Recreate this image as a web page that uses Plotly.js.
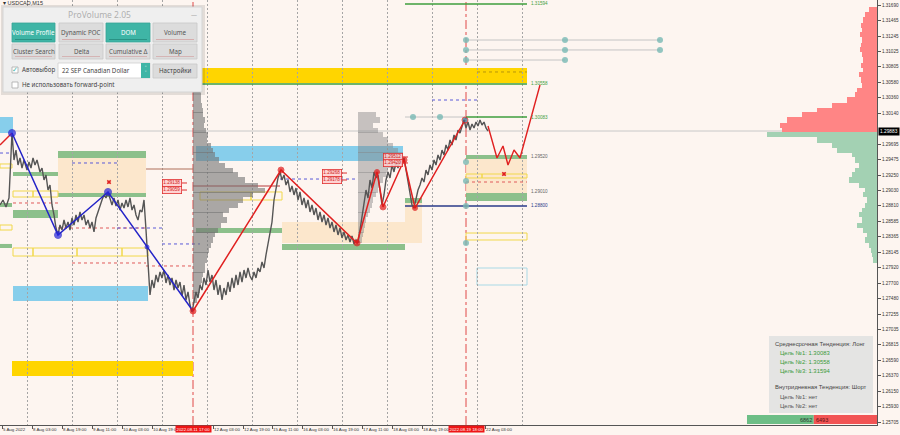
<!DOCTYPE html>
<html><head><meta charset="utf-8">
<script src="https://cdn.plot.ly/plotly-3.0.1.min.js"></script>
<style>html,body{margin:0;padding:0;background:#FDF5F0;}#chart{width:900px;height:435px;}</style>
</head><body><div id="chart"></div>
<script>
// ---------- DATA ----------
const symbolLabel = '▾ USDCAD,M15';
const timeTickPos = [2,32,62,92,122,152,213,243,272,302,332,362,392,422,485];
const timeTickText = ['5 Aug 2022','8 Aug 03:00','8 Aug 19:00','9 Aug 11:00','10 Aug 03:00','10 Aug 19:00','12 Aug 03:00','12 Aug 19:00','15 Aug 11:00','16 Aug 03:00','16 Aug 19:00','17 Aug 11:00','18 Aug 03:00','18 Aug 19:00','22 Aug 03:00'];
const separatorPos = [27,72,117,162,207,252,297,342,387,432,477,522];
const eventPos = [193,466];
const eventText = ['2022.08.11 17:00','2022.08.19 18:00'];
const priceTicks = [1.31690,1.31465,1.31245,1.31025,1.30805,1.30580,1.30360,1.30140,1.29695,1.29475,1.29250,1.29030,1.28810,1.28585,1.28365,1.28145,1.27920,1.27700,1.27480,1.27255,1.27035,1.26815,1.26590,1.26370,1.26150,1.25930,1.25705];
const priceRange = [1.25663,1.31762];
const lastPrice = 1.29882;
const lastPriceText = '1.29883';

const barPos = [0,3,6,9,12,14,16,18,20,22,24,27,29,31,33,35,37,40,42,44,46,48,50,52,54,56,58,60,62,64,66,68,70,72,74,76,78,80,82,84,86,88,90,92,94,96,98,100,102,104,106,108,110,112,114,116,118,120,122,124,126,128,130,132,134,136,138,140,142,144,146,147,149,150,152,154,156,158,160,162,164,166,168,170,172,174,176,178,180,182,184,186,188,190,192,194,196,198,200,202,204,206,208,210,212,214,216,218,220,222,224,226,228,230,232,234,236,238,240,242,244,246,248,250,252,254,256,258,260,262,264,266,268,270,272,274,276,278,280,282,284,286,288,290,292,294,296,298,300,302,304,306,308,310,312,314,316,318,320,322,324,326,328,330,332,334,336,338,340,342,344,346,348,350,352,354,356,358,360,362,364,366,368,370,372,374,376,378,380,382,384,386,388,390,392,394,396,398,400,402,404,406,408,410,412,414,416,418,420,422,424,426,428,430,432,434,436,438,440,442,444,446,448,450,452,454,456,458,460,462,464,466,468,470,472,474,476,478,480,482,484,486,488];
const closePrice = [1.28820,1.28892,1.28792,1.28921,1.29853,1.29466,1.29609,1.29394,1.29495,1.29351,1.29466,1.29322,1.29437,1.29351,1.29495,1.29394,1.29466,1.29294,1.29351,1.29179,1.29251,1.29035,1.29107,1.28820,1.28677,1.28490,1.28390,1.28533,1.28461,1.28605,1.28490,1.28576,1.28461,1.28634,1.28533,1.28677,1.28576,1.28720,1.28605,1.28677,1.28533,1.28605,1.28490,1.28576,1.28433,1.28634,1.28720,1.28820,1.28892,1.28964,1.28921,1.29007,1.28892,1.28820,1.28921,1.28806,1.28892,1.28748,1.28849,1.28777,1.28892,1.28792,1.28921,1.28748,1.28820,1.28677,1.28605,1.28748,1.28720,1.28892,1.28461,1.28218,1.27600,1.27529,1.27744,1.27629,1.27816,1.27715,1.27859,1.27773,1.27887,1.27701,1.27816,1.27672,1.27773,1.27600,1.27744,1.27629,1.27715,1.27514,1.27672,1.27457,1.27572,1.27385,1.27285,1.27457,1.27572,1.27486,1.27672,1.27600,1.27773,1.27672,1.27887,1.27715,1.27816,1.27600,1.27744,1.27529,1.27672,1.27457,1.27629,1.27529,1.27715,1.27572,1.27773,1.27629,1.27816,1.27672,1.27859,1.27715,1.27887,1.27773,1.27916,1.27801,1.27744,1.27859,1.27773,1.27916,1.27859,1.28002,1.27916,1.28103,1.28246,1.28433,1.28576,1.28892,1.29064,1.29208,1.29294,1.29179,1.29251,1.29107,1.29179,1.29007,1.29093,1.28964,1.29064,1.28892,1.29007,1.28820,1.28921,1.28777,1.28892,1.28720,1.28820,1.28677,1.28777,1.28605,1.28720,1.28576,1.28677,1.28533,1.28634,1.28490,1.28576,1.28433,1.28533,1.28390,1.28490,1.28347,1.28433,1.28318,1.28390,1.28289,1.28375,1.28261,1.28318,1.28275,1.28461,1.28677,1.28892,1.29035,1.28921,1.29179,1.29064,1.29294,1.29208,1.29251,1.29035,1.28820,1.28964,1.29179,1.29294,1.29208,1.29394,1.29294,1.29437,1.29351,1.29466,1.29394,1.29495,1.29322,1.29107,1.28964,1.28820,1.28777,1.28921,1.29035,1.29107,1.29208,1.29150,1.29322,1.29251,1.29394,1.29322,1.29466,1.29394,1.29538,1.29466,1.29609,1.29538,1.29681,1.29609,1.29753,1.29681,1.29825,1.29753,1.29896,1.29853,1.29968,1.30040,1.29925,1.30011,1.29896,1.29983,1.29925,1.30011,1.29954,1.30040,1.29968,1.30011,1.29925,1.29882];

const blueZigPos = [12,58,108,147,193];
const blueZigPrice = [1.29853,1.28390,1.29007,1.28218,1.27299];
const redZigPos = [193,281,357,377,383,404,415,465];
const redZigPrice = [1.27299,1.29322,1.28275,1.29294,1.28792,1.29466,1.28777,1.30040];
const prevZigPos = [0,12];
const prevZigPrice = [1.29681,1.29853];
const forecastPos = [488,497,503,508,514,520,540];
const forecastPrice = [1.29954,1.29495,1.29667,1.29394,1.29609,1.29495,1.30542];

const targetPrice = [1.31705,1.30558,1.30083];
const targetText = ['1.31594','1.30558','1.30083'];
const targetFrom = [405,200,466];
const targetTo = 527;
const auxLevelPrice = [1.29523,1.29007,1.28806];
const auxLevelText = ['1.29520','1.29010','1.28800'];

// zones: [from, to, high, low]
const greenZones = [[58,146,1.29595,1.29495],[58,146,1.28992,1.28935],[13,58,1.29294,1.29236],[13,58,1.28748,1.28634],[0,12,1.28849,1.28792],[0,12,1.28261,1.28203],[196,282,1.28490,1.28418],[282,405,1.28261,1.28174],[405,422,1.28921,1.28849],[466,527,1.29538,1.29480],[466,527,1.28992,1.28878]];
const blueZones = [[0,13,1.30083,1.29853],[13,148,1.27658,1.27443],[196,403,1.29667,1.29452]];
const goldZones = [[200,527,1.30786,1.30571],[12,193,1.26582,1.26366]];
const peachZones = [[58,146,1.29495,1.28992],[282,405,1.28576,1.28275],[405,422,1.28849,1.28275],[466,527,1.29480,1.28992]];
const yellowBoxes = [[13,33,1.29021,1.28935],[33,58,1.29021,1.28935],[13,33,1.28203,1.28088],[33,77,1.28203,1.28088],[77,122,1.28203,1.28088],[122,148,1.28203,1.28088],[0,12,1.29409,1.29351],[0,12,1.28533,1.28461],[200,251,1.29007,1.28892],[251,282,1.29007,1.28892],[466,482,1.29265,1.29208],[482,527,1.29265,1.29208],[466,527,1.28418,1.28318]];
const cyanBoxes = [[477,527,1.27916,1.27672]];
// lines: [from, to, price]
const redDotLines = [[13,58,1.28849],[58,146,1.28490],[72,146,1.27988],[146,192,1.27945],[466,527,1.29150]];
const blueDotLines = [[0,12,1.29566],[72,117,1.29423],[117,163,1.28490],[162,200,1.28261],[280,355,1.29193],[432,477,1.30327]];
const goldDotLines = [[477,527,1.30729]];
const brownLines = [[146,193,1.29337]];
const pocLines = [[193,280,1.29093]];
const grayLines = [[405,466,1.30083],[466,660,1.31188],[466,660,1.31045],[466,565,1.30901]];
const navyLines = [[405,527,1.28806]];

const nodePos = [466,466,466,565,565,565,660,660,413,440,466,466,466,466];
const nodePrice = [1.31188,1.31045,1.30901,1.31188,1.31045,1.30901,1.31188,1.31045,1.30083,1.30083,1.29437,1.29165,1.28806,1.28275];
const crossPos = [109,504];
const crossPrice = [1.29150,1.29265];

const tagPos = [172,172,332,332,393,393];
const tagPrice = [1.29136,1.29035,1.29279,1.29179,1.29509,1.29423];
const tagText = ['1.29138','1.29059','1.29268','1.29178','1.29512','1.29420'];

const profileLevels = [1.31619,1.31547,1.31475,1.31403,1.31332,1.31260,1.31188,1.31116,1.31045,1.30973,1.30901,1.30829,1.30758,1.30686,1.30614,1.30542,1.30470,1.30399,1.30327,1.30255,1.30183,1.30112,1.30040,1.29968,1.29896,1.29825,1.29753,1.29681,1.29609,1.29538,1.29466,1.29394,1.29322,1.29251,1.29179,1.29107,1.29035,1.28964,1.28892,1.28820,1.28748,1.28677,1.28605,1.28533,1.28461,1.28390,1.28318,1.28246,1.28174,1.28103,1.28031,1.27959,1.27887,1.27816,1.27744,1.27672,1.27600,1.27529,1.27457];
const profileAStart = 193;
const profileA = [0,0,0,0,0,0,0,0,0,0,0,0,0,0,0,6,7,8,8,9,10,10,12,11,13,15,14,18,20,22,26,32,40,45,52,65,72,60,50,45,36,30,34,28,25,22,20,18,16,15,14,12,12,10,9,8,7,6,4];
const profileBStart = 358;
const profileB = [0,0,0,0,0,0,0,0,0,0,0,0,0,0,0,0,0,0,0,0,0,18,22,15,20,25,30,35,40,45,42,38,30,28,25,22,20,18,15,14,12,10,8,7,6,5,4,0,0,0,0,0,0,0,0,0,0,0,0];
const domAsk = [8,12,14,16,15,17,15,16,17,15,14,16,14,18,16,15,20,22,30,45,60,75,90,97,95,0,0,0,0,0,0,0,0,0,0,0,0,0,0,0,0,0,0,0,0,0,0,0,0,0,0,0,0,0,0,0,0,0,0];
const domBid = [0,0,0,0,0,0,0,0,0,0,0,0,0,0,0,0,0,0,0,0,0,0,0,0,0,110,60,45,40,25,22,18,22,25,28,18,12,14,10,12,15,18,15,20,14,10,12,8,6,5,4,0,0,0,0,0,0,0,0];
const faintLevels = [1.28232,1.28045,1.27887,1.27787,1.27672,1.27514,1.27457,1.27299,1.27070,1.26811,1.26539,1.26424,1.26209,1.26151,1.25922];
const faintLen = [30,12,20,35,10,25,40,18,12,8,40,10,70,15,12];

const trendHeader = ['Среднесрочная Тенденция: Лонг','Внутридневная Тенденция: Шорт'];
const intradayTargets = ['нет','нет'];
const orderFlow = [6862,6493];

// ---------- BUILD ----------
const W = 877, H = 425, RIGHT = 877;
const px = x => x / W, py = y => 1 - y / H;
const FONT = 'Liberation Sans, Arial, sans-serif';
const UI = 'Noto Sans, Open Sans, sans-serif';
const shapes = [], ann = [];

function zone(z, fill, layer) { shapes.push({type:'rect', xref:'x', yref:'y', x0:z[0], x1:z[1], y0:z[3], y1:z[2], fillcolor:fill, line:{width:0}, layer:layer||'below'}); }
function box(z, color) { shapes.push({type:'rect', xref:'x', yref:'y', x0:z[0], x1:z[1], y0:z[3], y1:z[2], fillcolor:'rgba(0,0,0,0)', line:{color:color, width:1}, layer:'below'}); }
function hline(l, color, dash, w, layer) { shapes.push({type:'line', xref:'x', yref:'y', x0:l[0], x1:l[1], y0:l[2], y1:l[2], line:{color:color, width:w||1, dash:dash||'solid'}, layer:layer||'between'}); }

peachZones.forEach(z => zone(z, 'rgba(252,228,198,0.85)'));
greenZones.forEach(z => zone(z, 'rgba(128,186,128,0.9)'));
blueZones.forEach(z => zone(z, '#87CEEB'));
goldZones.forEach(z => zone(z, '#FFD500'));
yellowBoxes.forEach(z => box(z, '#F1D84A'));
cyanBoxes.forEach(z => box(z, '#A9D9E6'));
redDotLines.forEach(l => hline(l, '#E05A5A', 'dot'));
blueDotLines.forEach(l => hline(l, '#5A5AD8', 'dot'));
goldDotLines.forEach(l => hline(l, '#B8960A', 'dot'));
brownLines.forEach(l => hline(l, '#B0705A', 'solid', 1.2));
pocLines.forEach(l => hline(l, '#B83A3A', 'solid', 1.2));
grayLines.forEach(l => hline(l, '#C4C4C4', 'solid', 1));
navyLines.forEach(l => hline(l, '#2A3A8A', 'solid', 1.3));
targetPrice.forEach((p, i) => hline([targetFrom[i], targetTo, p], '#3E9E3E', 'solid', 1.5));
shapes.push({type:'line', xref:'paper', yref:'y', x0:0, x1:1, y0:lastPrice, y1:lastPrice, line:{color:'#C8C8C8', width:1}, layer:'between'});
eventPos.forEach(x => shapes.push({type:'line', xref:'x', yref:'paper', x0:x, x1:x, y0:0, y1:1, line:{color:'#E04848', width:1, dash:'dashdot'}, layer:'between'}));
tagPos.forEach((x, i) => hline([x+10, x+15, tagPrice[i]], '#E03030', 'solid', 1, 'above'));

targetPrice.forEach((p, i) => ann.push({x:targetTo+2, y:p, xref:'x', yref:'y', text:targetText[i], showarrow:false, xanchor:'left', yanchor:'middle', font:{family:FONT, size:4.6, color:'#3E9E3E'}}));
auxLevelPrice.forEach((p, i) => ann.push({x:targetTo+2, y:p, xref:'x', yref:'y', text:auxLevelText[i], showarrow:false, xanchor:'left', yanchor:'middle', font:{family:FONT, size:4.6, color: i===2 ? '#2A3A8A' : '#666'}}));
tagPos.forEach((x, i) => ann.push({x:x, y:tagPrice[i], xref:'x', yref:'y', text:tagText[i], showarrow:false, xanchor:'center', yanchor:'middle', bgcolor:'rgba(255,205,205,0.85)', bordercolor:'#E03030', borderwidth:0.8, borderpad:0.5, font:{family:FONT, size:4.6, color:'#D02020'}}));
ann.push({x:1, y:lastPrice, xref:'paper', yref:'y', text:lastPriceText, showarrow:false, xanchor:'left', yanchor:'middle', xshift:1, bgcolor:'#000', borderpad:1, font:{family:FONT, size:4.8, color:'#FFF'}});
eventPos.forEach((x, i) => ann.push({x:x, y:py(429), xref:'x', yref:'paper', text:eventText[i], showarrow:false, xanchor:'center', yanchor:'middle', bgcolor:'#EE1515', borderpad:0.5, font:{family:FONT, size:4.3, color:'#FFF'}}));

// ---------- UI overlays (paper px) ----------
function pRect(x0, y0, x1, y1, fill, line, lw) { shapes.push({type:'rect', xref:'paper', yref:'paper', x0:px(x0), x1:px(x1), y0:py(y1), y1:py(y0), fillcolor:fill, line:{color:line||'rgba(0,0,0,0)', width:lw||0}, layer:'above'}); }
function pText(x, y, text, size, color, anchor, fam) { ann.push({xref:'paper', yref:'paper', x:px(x), y:py(y), text:text, showarrow:false, xanchor:anchor||'left', yanchor:'middle', borderpad:0, font:{family:fam||UI, size:size, color:color}}); }

pText(2, 3, symbolLabel, 5.5, '#333', 'left', FONT);
pRect(1, 5, 205, 95, 'rgba(0,0,0,0.10)');
pRect(3, 7, 202, 92, '#EFEFEF', '#D5D5D5', 1);
pText(99, 14, 'ProVolume 2.05', 8.5, '#B0B0B0', 'center');
pText(194, 15, '—', 6, '#999', 'center');
const btnX = [[12,55],[59,103],[106,150],[153,197]];
const row1 = ['Volume Profile','Dynamic POC','DOM','Volume'], row1On = [true,false,true,false];
const row2 = ['Cluster Search','Delta','Cumulative Δ','Map'];
btnX.forEach((b, i) => {
  pRect(b[0], 23, b[1], 42, row1On[i] ? '#3FB5A6' : '#DCDCDC', row1On[i] ? '#38A597' : '#C8C8C8', 0.8);
  pText((b[0]+b[1])/2, 32.5, row1[i], 6.2, row1On[i] ? '#FFFFFF' : '#555', 'center');
  pRect(b[0]+3, 39, b[1]-3, 40, row1On[i] ? 'rgba(0,80,70,0.35)' : 'rgba(200,90,90,0.35)');
  pRect(b[0], 44, b[1], 59, '#DCDCDC', '#C8C8C8', 0.8);
  pText((b[0]+b[1])/2, 51.5, row2[i], 6.2, '#555', 'center');
  pRect(b[0]+3, 56, b[1]-3, 57, 'rgba(200,90,90,0.3)');
});
pRect(12, 67, 18, 73, '#FFFFFF', '#AAA', 0.8);
pText(15, 69.5, '✓', 6.5, '#3FB5A6', 'center');
pText(21, 70, 'Автовыбор', 6.2, '#444');
pRect(58, 63, 150, 78, '#FFFFFF', '#CFCFCF', 0.8);
pText(61, 70.5, '22 SEP Canadian Dollar', 6.2, '#444');
pRect(141, 63, 150, 78, '#3FB5A6');
pText(145.5, 68, '˄', 5, '#FFF', 'center');
pText(145.5, 73, '˅', 5, '#FFF', 'center');
pRect(153, 64, 197, 78, '#DCDCDC', '#C8C8C8', 0.8);
pText(175, 71, 'Настройки', 6.2, '#444', 'center');
pRect(12, 82, 18, 88, '#FFFFFF', '#AAA', 0.8);
pText(21, 85, 'Не использовать forward-point', 6.2, '#444');

pRect(769, 336, 873, 413, 'rgba(226,226,226,0.92)');
pText(774, 344, trendHeader[0], 5.9, '#444', 'left', FONT);
targetText.slice().sort().forEach((t, i) => pText(779, 353 + i*9, 'Цель №' + (i+1) + ': ' + t, 5.9, '#3A9A3A', 'left', FONT));
pText(774, 387, trendHeader[1], 5.9, '#444', 'left', FONT);
intradayTargets.forEach((t, i) => pText(779, 397 + i*9, 'Цель №' + (i+1) + ': ' + t, 5.9, '#555', 'left', FONT));
const flowTotal = orderFlow[0] + orderFlow[1];
const flowX0 = 747, flowW = RIGHT - flowX0;
const flowMid = flowX0 + flowW * orderFlow[0] / flowTotal;
pRect(flowX0, 415, flowMid, 424, '#6DBE86');
pRect(flowMid, 415, RIGHT, 424, '#F25454');
pText(flowMid - 1, 419.5, String(orderFlow[0]), 5.5, '#2F3A2F', 'right', FONT);
pText(flowMid + 1, 419.5, String(orderFlow[1]), 5.5, '#5A1010', 'left', FONT);

// ---------- TRACES ----------
const step = 0.00072;
const traces = [
  {type:'bar', orientation:'h', y:profileLevels, x:profileA, base:profileAStart, width:step, marker:{color:'rgba(115,115,115,0.6)', line:{width:0}}, hoverinfo:'skip'},
  {type:'bar', orientation:'h', y:profileLevels, x:profileB, base:profileBStart, width:step, marker:{color:'rgba(130,130,130,0.45)', line:{width:0}}, hoverinfo:'skip'},
  {type:'bar', orientation:'h', y:profileLevels, x:domAsk, base:domAsk.map(v => RIGHT - v), width:step, marker:{color:'#FF8585', line:{width:0}}, hoverinfo:'skip'},
  {type:'bar', orientation:'h', y:profileLevels, x:domBid, base:domBid.map(v => RIGHT - v), width:step, marker:{color:'#A3D1B3', line:{width:0}}, hoverinfo:'skip'},
  {type:'bar', orientation:'h', y:faintLevels, x:faintLen, base:faintLen.map(v => RIGHT - v), width:0.00011, marker:{color:'rgba(130,190,160,0.75)', line:{width:0}}, hoverinfo:'skip'},
  {type:'scatter', mode:'lines', x:barPos, y:closePrice, line:{color:'#555555', width:1.4}, hoverinfo:'skip'},
  {type:'scatter', mode:'lines', x:prevZigPos, y:prevZigPrice, line:{color:'#E02020', width:1.4}, hoverinfo:'skip'},
  {type:'scatter', mode:'lines+markers', x:blueZigPos, y:blueZigPrice, line:{color:'#2424C8', width:1.5}, marker:{color:'#2424E0', size:[7,7,7,4,0]}, hoverinfo:'skip'},
  {type:'scatter', mode:'lines+markers', x:redZigPos, y:redZigPrice, line:{color:'#E02020', width:1.5}, marker:{color:['#E01818','#E01818','#E01818','#E01818','#E01818','#E01818','#E01818','#2E6E8E'], size:[6,6,6,5,6,6,5,6]}, hoverinfo:'skip'},
  {type:'scatter', mode:'lines', x:forecastPos, y:forecastPrice, line:{color:'#E02020', width:1.4}, hoverinfo:'skip'},
  {type:'scatter', mode:'markers', x:nodePos, y:nodePrice, marker:{color:'rgba(120,185,180,0.8)', size:6}, hoverinfo:'skip'},
  {type:'scatter', mode:'markers', x:crossPos, y:crossPrice, marker:{color:'#E02020', size:4, symbol:'x'}, hoverinfo:'skip'}
];

const layout = {
  width:900, height:435,
  margin:{l:0, r:23, t:0, b:10, pad:0},
  paper_bgcolor:'#FDF5F0', plot_bgcolor:'#FDF5F0',
  showlegend:false, barmode:'overlay', bargap:0,
  xaxis:{range:[0, W], showgrid:false, zeroline:false, showline:true, linecolor:'#555', linewidth:1,
    tickvals:timeTickPos, ticktext:timeTickText, ticks:'outside', ticklen:3, tickcolor:'#555',
    ticklabelposition:'outside right', tickangle:0,
    tickfont:{family:FONT, size:4.4, color:'#333'},
    minor:{tickvals:separatorPos, showgrid:true, gridcolor:'#A5A5A5', griddash:'2px,2px', gridwidth:1, ticks:''}},
  yaxis:{range:priceRange, side:'right', showgrid:false, zeroline:false, showline:true, linecolor:'#555', linewidth:1,
    tickvals:priceTicks, tickformat:'.5f', ticks:'outside', ticklen:3, tickcolor:'#555',
    tickfont:{family:FONT, size:4.6, color:'#333'}},
  shapes:shapes, annotations:ann
};
Plotly.newPlot('chart', traces, layout, {staticPlot:true, displayModeBar:false});
</script>
</body></html>
